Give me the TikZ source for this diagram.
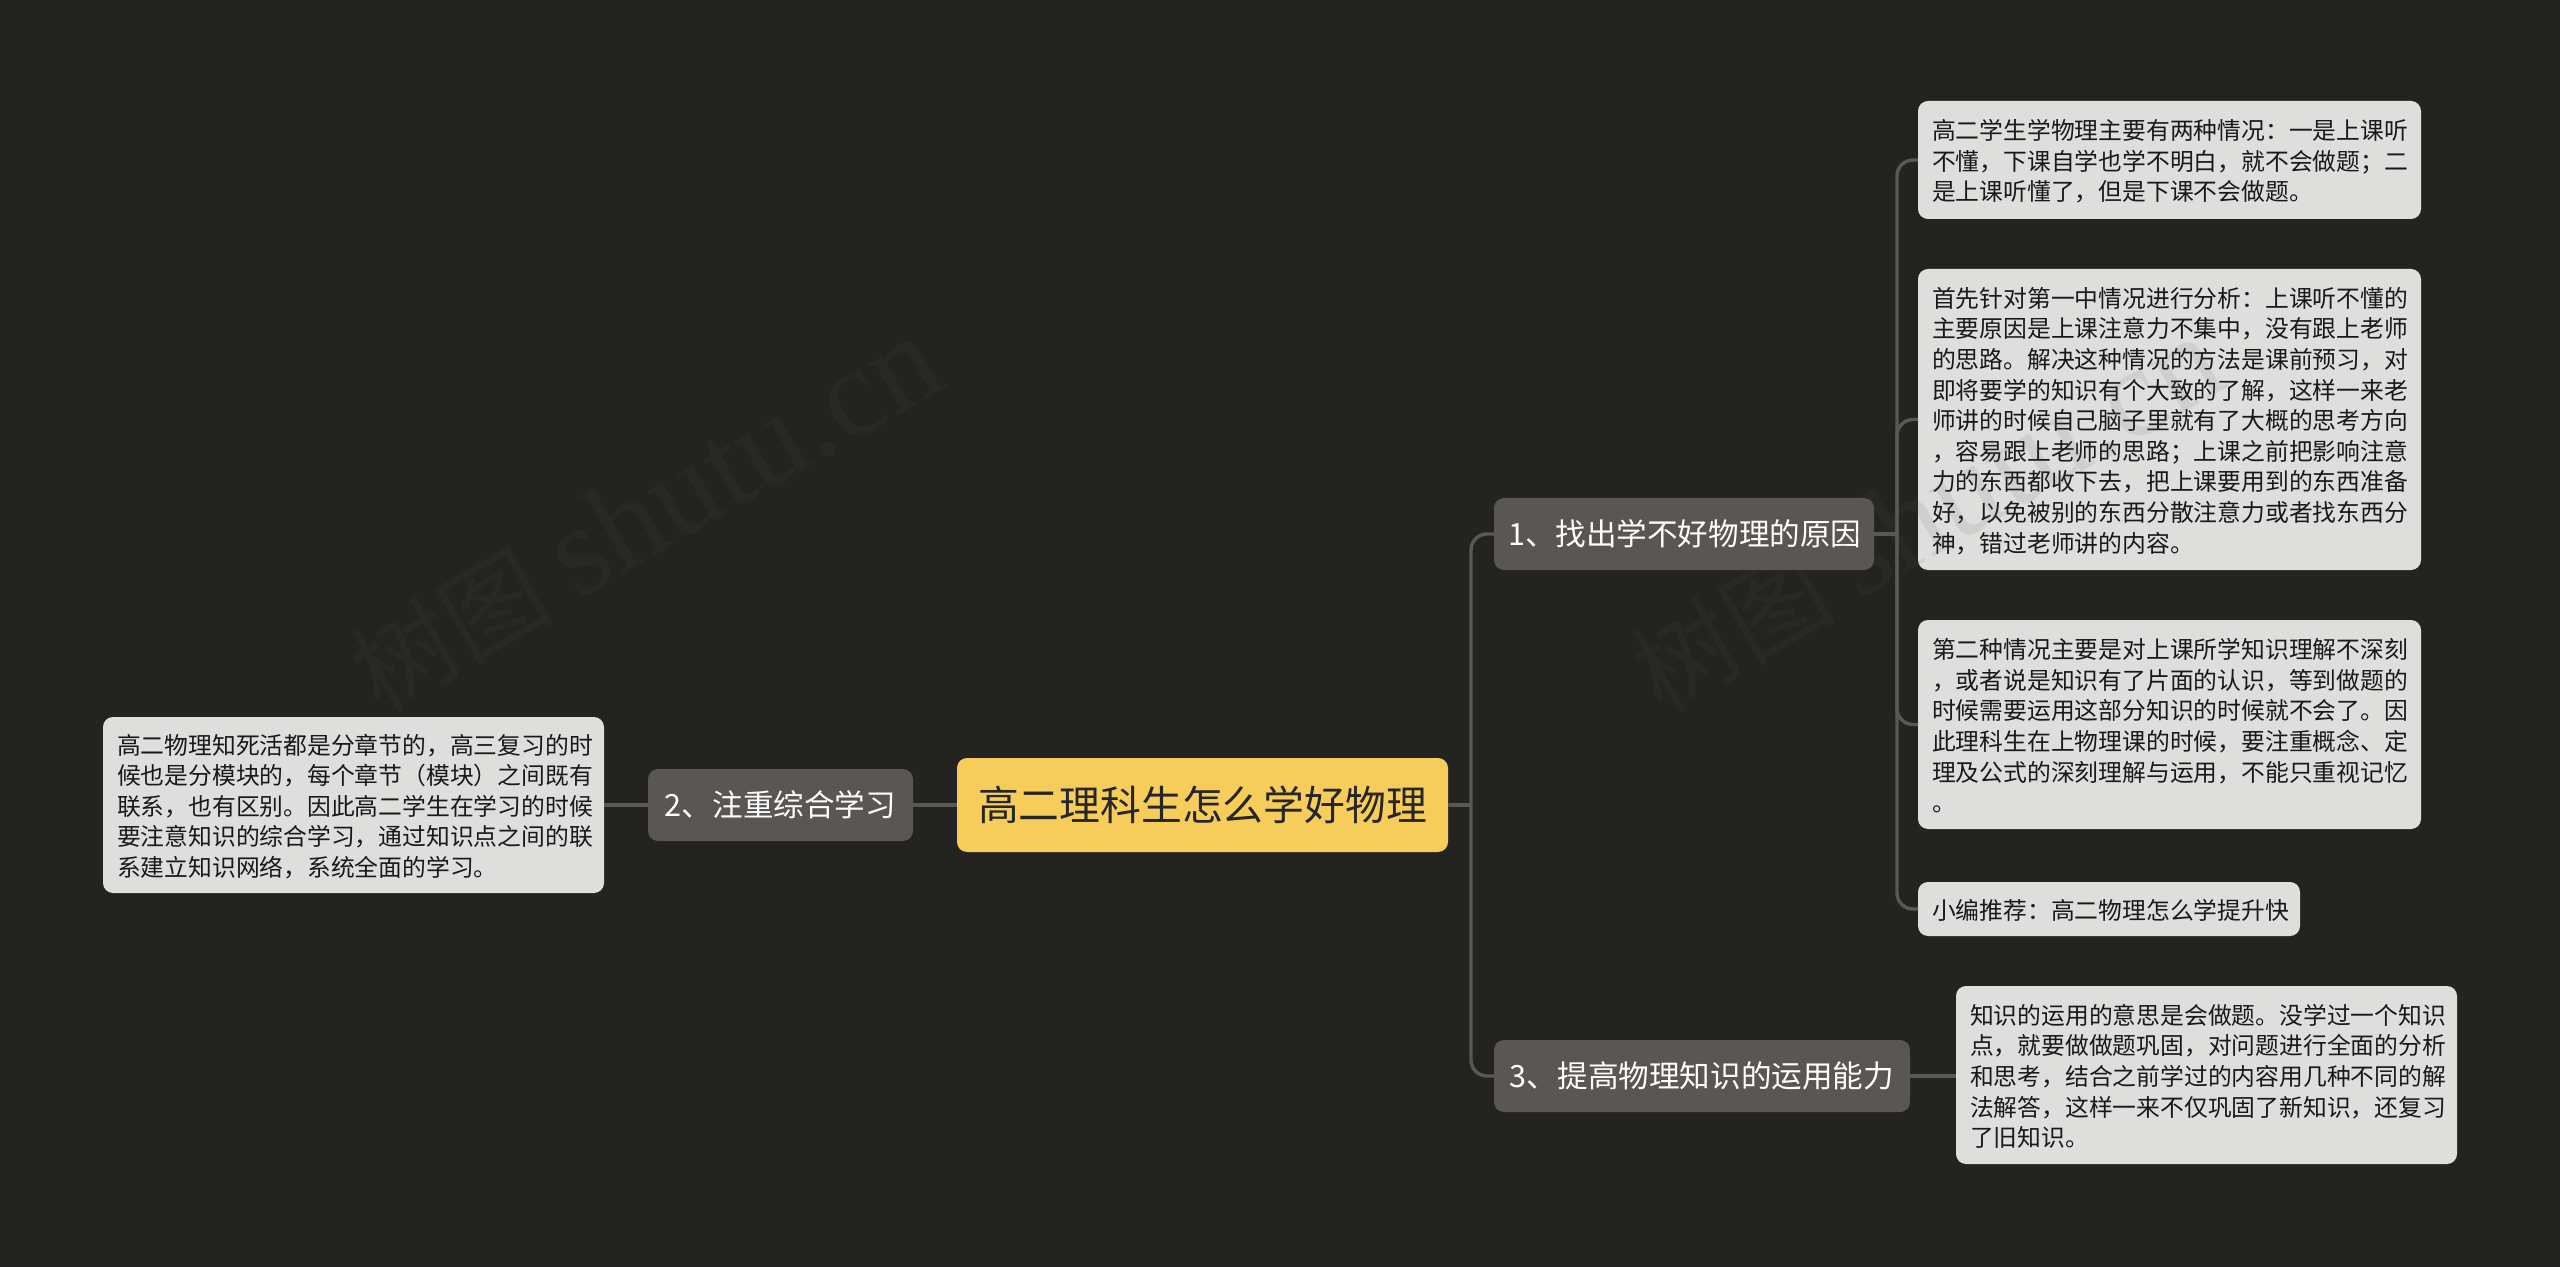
\documentclass[tikz,border=0pt]{standalone}
\usepackage{fontspec}
\setmainfont{Noto Sans CJK SC}
\newfontfamily\wmlatin{Liberation Serif}
\definecolor{bgc}{HTML}{232321}
\definecolor{rootc}{HTML}{F6CD5A}
\definecolor{midc}{HTML}{595653}
\definecolor{leafc}{HTML}{DEDEDC}
\definecolor{linec}{HTML}{5A5855}
\definecolor{wmc}{HTML}{595959}
\tikzset{
  sz/.style 2 args={minimum width=#1*0.5pt,minimum height=#2*0.5pt,text width=#1*0.5pt-14pt},
  base/.style={rounded corners=5pt,inner sep=0pt,align=left,outer sep=0pt},
  rootbox/.style={base,fill=rootc,text=black!85,align=center,font=\fontsize{20.4}{26}\selectfont},
  midbox/.style={base,fill=midc,text=white,align=center,font=\fontsize{15.3}{20}\selectfont},
  leafbox/.style={base,fill=leafc,text=black!90,font=\fontsize{11.9}{15.3}\selectfont,execute at end node={\par\vspace*{-1.4pt}}},
  conn/.style={draw=linec,line width=1.7pt,rounded corners=8pt},
  wm/.style={rotate=30,text=wmc,text opacity=.11,font=\fontsize{51}{60}\selectfont,inner sep=0pt}
}
\begin{document}
\begin{tikzpicture}[x=0.5pt,y=-0.5pt]
\fill[bgc] (0,0) rectangle (2560,1267);
\useasboundingbox (0,0) rectangle (2560,1267);
\coordinate (t1) at (1471,805);
\coordinate (t2) at (1897,534);
\node[rootbox,sz={491}{94}] (root) at (1202.5,805) {高二理科生怎么学好物理};
\node[midbox,sz={265}{72}] (m2) at (780.5,805) {2、注重综合学习};
\node[midbox,sz={380}{72}] (m1) at (1684,534) {1、找出学不好物理的原因};
\node[midbox,sz={416}{72}] (m3) at (1702,1076) {3、提高物理知识的运用能力};
\node[leafbox,sz={503}{118}] (l1) at (2169.5,160) {高二学生学物理主要有两种情况：一是上课听\\不懂，下课自学也学不明白，就不会做题；二\\是上课听懂了，但是下课不会做题。};
\node[leafbox,sz={503}{301}] (l2) at (2169.5,419.5) {首先针对第一中情况进行分析：上课听不懂的\\主要原因是上课注意力不集中，没有跟上老师\\的思路。解决这种情况的方法是课前预习，对\\即将要学的知识有个大致的了解，这样一来老\\师讲的时候自己脑子里就有了大概的思考方向\\，容易跟上老师的思路；上课之前把影响注意\\力的东西都收下去，把上课要用到的东西准备\\好，以免被别的东西分散注意力或者找东西分\\神，错过老师讲的内容。};
\node[leafbox,sz={503}{209}] (l3) at (2169.5,724.5) {第二种情况主要是对上课所学知识理解不深刻\\，或者说是知识有了片面的认识，等到做题的\\时候需要运用这部分知识的时候就不会了。因\\此理科生在上物理课的时候，要注重概念、定\\理及公式的深刻理解与运用，不能只重视记忆\\。};
\node[leafbox,sz={382}{54}] (l4) at (2109,909) {小编推荐：高二物理怎么学提升快};
\node[leafbox,sz={501}{178}] (l5) at (2206.5,1075) {知识的运用的意思是会做题。没学过一个知识\\点，就要做做题巩固，对问题进行全面的分析\\和思考，结合之前学过的内容用几种不同的解\\法解答，这样一来不仅巩固了新知识，还复习\\了旧知识。};
\node[leafbox,sz={501}{176}] (l0) at (353.5,805) {高二物理知死活都是分章节的，高三复习的时\\候也是分模块的，每个章节（模块）之间既有\\联系，也有区别。因此高二学生在学习的时候\\要注意知识的综合学习，通过知识点之间的联\\系建立知识网络，系统全面的学习。};
\draw[conn] (root.east) -- (t1);
\draw[conn] (root.west) -- (m2.east);
\draw[conn] (m2.west) -- (l0.east);
\draw[conn] (t1) |- (m3.west);
\draw[conn] (t1) |- (m1.west);
\draw[conn] (m1.east) -- (t2);
\draw[conn] (t2) |- (l1.west);
\draw[conn] (t2) |- (l2.west);
\draw[conn] (t2) |- (l3.west);
\draw[conn] (t2) |- (l4.west);
\draw[conn] (m3.east) -- (m3.east -| l5.west);
\node[wm] (w1) at (645,515) {树图 {\wmlatin\fontsize{64}{60}\selectfont shutu.cn}};
\node[wm] (w2) at (1926,515) {树图 {\wmlatin\fontsize{64}{60}\selectfont shutu.cn}};
\end{tikzpicture}
\end{document}
